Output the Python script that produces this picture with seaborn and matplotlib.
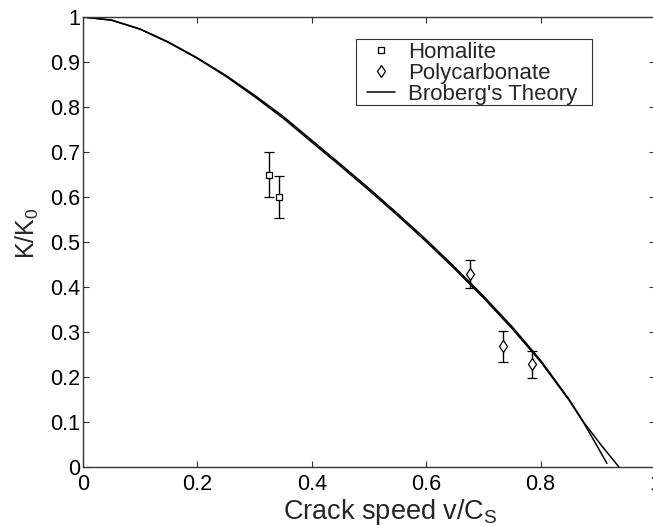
import numpy as np
import pandas as pd
import matplotlib
matplotlib.use('Agg')
import matplotlib.pyplot as plt
from matplotlib.lines import Line2D
from matplotlib.patches import Rectangle
import seaborn as sns

# ── data ────────────────────────────────────────────────────────────────
homalite_v = [0.325, 0.342]
homalite_k = [0.65, 0.60]
homalite_err = [0.049, 0.047]

poly_v = [0.677, 0.735, 0.785]
poly_k = [0.428, 0.268, 0.228]
poly_err = [0.031, 0.034, 0.030]

# Broberg's theory, two nearly coincident branches
theory_v_a = [0, 0.05, 0.1, 0.15, 0.2, 0.25, 0.3, 0.35, 0.4, 0.45, 0.5,
              0.55, 0.6, 0.65, 0.7, 0.75, 0.8, 0.85, 0.875, 0.895, 0.916]
theory_k_a = [1.0, 0.993, 0.973, 0.943, 0.908, 0.868, 0.823, 0.775, 0.722,
              0.669, 0.615, 0.559, 0.501, 0.440, 0.376, 0.308, 0.234, 0.148,
              0.099, 0.055, 0.008]
theory_v_b = [0, 0.05, 0.1, 0.15, 0.2, 0.25, 0.3, 0.35, 0.4, 0.45, 0.5,
              0.55, 0.6, 0.65, 0.7, 0.75, 0.8, 0.85, 0.875, 0.905, 0.937]
theory_k_b = [1.0, 0.993, 0.973, 0.944, 0.909, 0.870, 0.826, 0.779, 0.726,
              0.673, 0.619, 0.563, 0.505, 0.444, 0.380, 0.312, 0.237, 0.150,
              0.100, 0.050, 0.0]

x_ticks = [0, 0.2, 0.4, 0.6, 0.8, 1]
x_ticklabels = ['0', '0.2', '0.4', '0.6', '0.8', '1']
y_ticks = [0, 0.1, 0.2, 0.3, 0.4, 0.5, 0.6, 0.7, 0.8, 0.9, 1]
y_ticklabels = ['0', '0.1', '0.2', '0.3', '0.4', '0.5', '0.6', '0.7', '0.8', '0.9', '1']

# ── style ───────────────────────────────────────────────────────────────
sns.set_style('ticks')
plt.rcParams['font.family'] = ['Liberation Sans', 'DejaVu Sans']
plt.rcParams['mathtext.fontset'] = 'custom'
plt.rcParams['mathtext.rm'] = 'Liberation Sans'
plt.rcParams['mathtext.it'] = 'Liberation Sans'

W, H = 653, 526
fig = plt.figure(figsize=(W / 100, H / 100), dpi=100)
ax = fig.add_axes([83 / W, 59 / H, 572 / W, 450 / H])

df_a = pd.DataFrame({'v': theory_v_a, 'k': theory_k_a})
df_b = pd.DataFrame({'v': theory_v_b, 'k': theory_k_b})
sns.lineplot(data=df_a, x='v', y='k', ax=ax, color='black', lw=1.1,
             sort=False, estimator=None)
sns.lineplot(data=df_b, x='v', y='k', ax=ax, color='black', lw=1.1,
             sort=False, estimator=None)

ax.errorbar(homalite_v, homalite_k, yerr=homalite_err, fmt='s', ms=5,
            mfc='white', mec='black', mew=0.9, ecolor='black', elinewidth=1.0,
            capsize=3.5, capthick=1.0, zorder=3)
ax.errorbar(poly_v, poly_k, yerr=poly_err, fmt='d', ms=6.5,
            mfc='white', mec='black', mew=0.9, ecolor='black', elinewidth=1.0,
            capsize=3.5, capthick=1.0, zorder=3)

ax.set_xlim(0, 1)
ax.set_ylim(0, 1)
ax.set_xticks(x_ticks)
ax.set_xticklabels(x_ticklabels)
ax.set_yticks(y_ticks)
ax.set_yticklabels(y_ticklabels)
ax.tick_params(direction='in', length=4, width=0.8, top=True, right=True,
               labelsize=15.5, colors='#333333', labelcolor='black')
ax.tick_params(axis='y', pad=2)
ax.tick_params(axis='x', pad=5)
for s in ax.spines.values():
    s.set_visible(True)
    s.set_color('#333333')
    s.set_linewidth(1.0)

ax.set_xlabel('Crack speed v/C$_\\mathrm{S}$', fontsize=19.5)
ax.xaxis.set_label_coords((390 - 83) / 572, -0.066)
ax.set_ylabel('K/K$_\\mathrm{0}$', fontsize=18)
ax.yaxis.set_label_coords(-0.074, 0.52)

handles = [
    Line2D([], [], ls='none', marker='s', ms=5, mfc='white', mec='black', mew=0.9),
    Line2D([], [], ls='none', marker='d', ms=6.5, mfc='white', mec='black', mew=0.9),
    Line2D([], [], color='black', lw=1.1),
]
leg = ax.legend(handles, ['Homalite', 'Polycarbonate', "Broberg's Theory"],
                loc='upper left', bbox_to_anchor=(367 / W, 1 - 42 / H),
                bbox_transform=fig.transFigure, borderaxespad=0, borderpad=0,
                fontsize=16, frameon=False, labelspacing=0.0,
                handlelength=1.26, handletextpad=0.58)
# legend box drawn separately so the side padding matches the reference
fig.patches.append(Rectangle((356 / W, 1 - 105 / H), 236 / W, 66 / H,
                             transform=fig.transFigure, fill=False,
                             edgecolor='#333333', lw=0.8, zorder=5))

fig.savefig('out.png', dpi=100)
